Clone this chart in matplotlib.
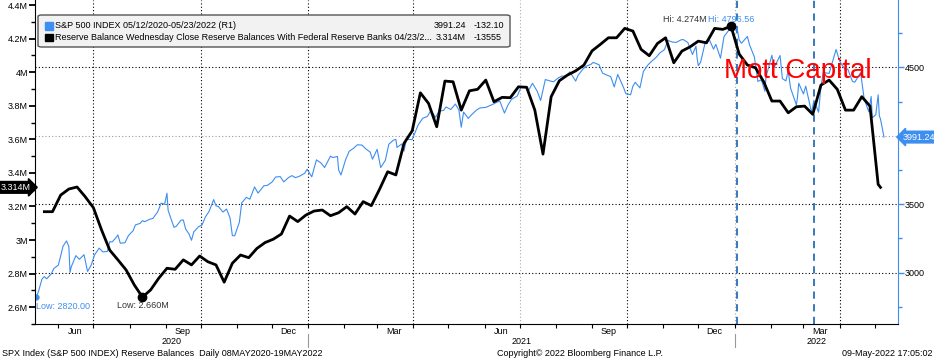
import matplotlib
matplotlib.use("Agg")
import matplotlib.pyplot as plt
import matplotlib.dates as mdates
import matplotlib.transforms as mtransforms
from matplotlib.patches import FancyBboxPatch, Rectangle
import pandas as pd

# --- data ---
# Reserve balances (weekly, Wednesday close), trillions shown as "M"
reserve_start = "2020-05-20"
reserve_values = [
    3.169, 3.169, 3.268, 3.304, 3.316, 3.258, 3.193, 3.060, 2.940, 2.882,
    2.822, 2.733, 2.660, 2.703, 2.773, 2.832, 2.826, 2.882, 2.852, 2.905,
    2.871, 2.852, 2.749, 2.862, 2.911, 2.895, 2.950, 2.985, 3.005, 3.036,
    3.143, 3.110, 3.149, 3.173, 3.179, 3.145, 3.163, 3.199, 3.155, 3.229,
    3.205, 3.302, 3.407, 3.388, 3.576, 3.651, 3.877, 3.814, 3.675, 3.947,
    3.943, 3.774, 3.889, 3.898, 3.953, 3.824, 3.850, 3.848, 3.913, 3.910,
    3.774, 3.512, 3.854, 3.949, 3.983, 4.008, 4.042, 4.127, 4.165, 4.205,
    4.205, 4.261, 4.245, 4.136, 4.098, 4.171, 4.205, 4.056, 4.126, 4.151,
    4.185, 4.175, 4.261, 4.255, 4.274, 4.108, 4.043, 4.026, 3.943, 3.828,
    3.828, 3.758, 3.794, 3.798, 3.749, 3.923, 3.953, 3.898, 3.774, 3.774,
    3.854, 3.798, 3.332,
]
reserve_last_date = "2022-05-06"
reserve_last_value = 3.314

# S&P 500 closes (right axis)
spx_dates = [
    "2020-05-13", "2020-05-15", "2020-05-18", "2020-05-20", "2020-05-22", "2020-05-26",
    "2020-05-28", "2020-06-01", "2020-06-03", "2020-06-05", "2020-06-08", "2020-06-10",
    "2020-06-11", "2020-06-12", "2020-06-16", "2020-06-19", "2020-06-23", "2020-06-26",
    "2020-06-29", "2020-07-02", "2020-07-06", "2020-07-09", "2020-07-13", "2020-07-15",
    "2020-07-17", "2020-07-20", "2020-07-22", "2020-07-24", "2020-07-28", "2020-07-31",
    "2020-08-04", "2020-08-06", "2020-08-10", "2020-08-12", "2020-08-14", "2020-08-18",
    "2020-08-21", "2020-08-25", "2020-08-28", "2020-08-31", "2020-09-02", "2020-09-03",
    "2020-09-08", "2020-09-10", "2020-09-14", "2020-09-16", "2020-09-18", "2020-09-21",
    "2020-09-23", "2020-09-25", "2020-09-29", "2020-10-02", "2020-10-05", "2020-10-08",
    "2020-10-12", "2020-10-14", "2020-10-16", "2020-10-20", "2020-10-23", "2020-10-26",
    "2020-10-28", "2020-10-30", "2020-11-03", "2020-11-05", "2020-11-09", "2020-11-12",
    "2020-11-16", "2020-11-19", "2020-11-24", "2020-11-27", "2020-12-01", "2020-12-04",
    "2020-12-08", "2020-12-11", "2020-12-15", "2020-12-18", "2020-12-21", "2020-12-24",
    "2020-12-29", "2020-12-31", "2021-01-04", "2021-01-08", "2021-01-12", "2021-01-15",
    "2021-01-20", "2021-01-22", "2021-01-26", "2021-01-27", "2021-01-29", "2021-02-02",
    "2021-02-05", "2021-02-09", "2021-02-12", "2021-02-16", "2021-02-19", "2021-02-23",
    "2021-02-25", "2021-03-01", "2021-03-04", "2021-03-08", "2021-03-11", "2021-03-15",
    "2021-03-17", "2021-03-18", "2021-03-22", "2021-03-24", "2021-03-26", "2021-03-31",
    "2021-04-05", "2021-04-09", "2021-04-13", "2021-04-16", "2021-04-20", "2021-04-23",
    "2021-04-27", "2021-04-29", "2021-05-03", "2021-05-07", "2021-05-10", "2021-05-12",
    "2021-05-14", "2021-05-18", "2021-05-21", "2021-05-25", "2021-05-28", "2021-06-02",
    "2021-06-07", "2021-06-10", "2021-06-14", "2021-06-18", "2021-06-21", "2021-06-24",
    "2021-06-29", "2021-07-02", "2021-07-07", "2021-07-08", "2021-07-12", "2021-07-16",
    "2021-07-19", "2021-07-23", "2021-07-27", "2021-07-30", "2021-08-03", "2021-08-06",
    "2021-08-10", "2021-08-13", "2021-08-18", "2021-08-20", "2021-08-24", "2021-08-27",
    "2021-08-31", "2021-09-02", "2021-09-07", "2021-09-10", "2021-09-14", "2021-09-17",
    "2021-09-20", "2021-09-23", "2021-09-28", "2021-09-30", "2021-10-04", "2021-10-06",
    "2021-10-08", "2021-10-12", "2021-10-15", "2021-10-19", "2021-10-22", "2021-10-26",
    "2021-10-29", "2021-11-02", "2021-11-05", "2021-11-09", "2021-11-12", "2021-11-16",
    "2021-11-18", "2021-11-22", "2021-11-26", "2021-11-29", "2021-11-30", "2021-12-01",
    "2021-12-03", "2021-12-07", "2021-12-10", "2021-12-14", "2021-12-16", "2021-12-20",
    "2021-12-23", "2021-12-29", "2021-12-31", "2022-01-03", "2022-01-05", "2022-01-07",
    "2022-01-12", "2022-01-14", "2022-01-18", "2022-01-21", "2022-01-24", "2022-01-27",
    "2022-01-28", "2022-02-02", "2022-02-04", "2022-02-09", "2022-02-11", "2022-02-14",
    "2022-02-16", "2022-02-18", "2022-02-23", "2022-02-24", "2022-02-25", "2022-03-01",
    "2022-03-03", "2022-03-08", "2022-03-10", "2022-03-14", "2022-03-16", "2022-03-18",
    "2022-03-23", "2022-03-29", "2022-04-01", "2022-04-06", "2022-04-08", "2022-04-12",
    "2022-04-14", "2022-04-19", "2022-04-22", "2022-04-26", "2022-04-28", "2022-04-29",
    "2022-05-02", "2022-05-04", "2022-05-05", "2022-05-06", "2022-05-09",
]
spx_values = [
    2820.00, 2863.70, 2953.91, 2971.61, 2955.45, 2991.77,
    3029.73, 3055.73, 3122.87, 3193.93, 3232.39, 3190.14,
    3002.10, 3041.31, 3124.74, 3097.74, 3131.29, 3009.05,
    3053.24, 3130.01, 3179.72, 3152.05, 3155.22, 3226.56,
    3224.73, 3251.84, 3276.02, 3215.63, 3218.44, 3271.12,
    3306.51, 3349.16, 3360.47, 3380.35, 3372.85, 3389.78,
    3397.16, 3443.62, 3508.01, 3500.31, 3580.84, 3455.06,
    3331.84, 3339.19, 3383.54, 3385.49, 3319.47, 3281.06,
    3236.92, 3298.46, 3335.47, 3348.42, 3408.60, 3446.83,
    3534.22, 3488.67, 3483.81, 3443.12, 3465.39, 3400.97,
    3271.03, 3269.96, 3369.16, 3510.45, 3550.50, 3537.01,
    3626.91, 3581.87, 3635.41, 3638.35, 3662.45, 3699.12,
    3702.25, 3663.46, 3694.62, 3709.41, 3694.92, 3703.06,
    3727.04, 3756.07, 3700.65, 3824.68, 3801.19, 3768.25,
    3851.85, 3841.47, 3849.62, 3750.77, 3714.24, 3826.31,
    3886.83, 3911.23, 3934.83, 3932.59, 3906.71, 3881.37,
    3829.34, 3901.82, 3768.47, 3821.35, 3939.34, 3968.94,
    3974.12, 3915.46, 3940.59, 3889.14, 3974.54, 3972.89,
    4077.91, 4128.80, 4141.59, 4185.47, 4134.94, 4180.17,
    4186.72, 4211.47, 4192.66, 4232.60, 4188.43, 4063.04,
    4173.85, 4127.83, 4155.86, 4188.13, 4204.11, 4208.12,
    4226.52, 4239.18, 4255.15, 4166.45, 4224.79, 4266.49,
    4291.80, 4352.34, 4358.13, 4320.82, 4384.63, 4327.16,
    4258.49, 4411.79, 4401.46, 4395.26, 4423.15, 4436.52,
    4436.75, 4468.00, 4400.27, 4441.67, 4486.23, 4509.37,
    4522.68, 4536.95, 4520.03, 4458.58, 4443.05, 4432.99,
    4357.73, 4448.98, 4352.63, 4307.54, 4300.46, 4363.55,
    4391.34, 4350.65, 4471.37, 4519.63, 4544.90, 4574.79,
    4605.38, 4630.65, 4697.53, 4685.25, 4682.85, 4700.90,
    4704.54, 4682.94, 4594.62, 4655.27, 4567.00, 4513.04,
    4538.43, 4686.75, 4712.02, 4634.09, 4668.67, 4568.02,
    4725.79, 4793.06, 4766.18, 4796.56, 4700.58, 4677.03,
    4726.35, 4662.85, 4577.11, 4397.94, 4410.13, 4326.51,
    4431.85, 4589.38, 4500.53, 4587.18, 4418.64, 4401.67,
    4475.01, 4348.87, 4225.50, 4288.70, 4384.65, 4306.26,
    4363.49, 4170.70, 4259.52, 4173.11, 4357.86, 4463.12,
    4456.24, 4631.60, 4545.86, 4481.15, 4488.28, 4397.45,
    4392.59, 4462.21, 4271.78, 4175.20, 4287.50, 4131.93,
    4155.38, 4300.17, 4146.87, 4123.34, 3991.24,
]

left_ticks = [2.6, 2.8, 3.0, 3.2, 3.4, 3.6, 3.8, 4.0, 4.2, 4.4]
right_ticks = [3000, 3500, 4000, 4500]
marker_dates = ["2022-01-03", "2022-03-10"]   # blue dashed verticals

BLUE = "#3d8ef0"
FONT = "Liberation Sans"
W, H = 934, 359


def fx(px):
    return px / W


def fy(py):
    return 1 - py / H


def main():
    plt.rcParams["font.family"] = [FONT, "DejaVu Sans"]
    plt.rcParams["font.size"] = 6.5

    res_dates = list(pd.date_range(reserve_start, periods=len(reserve_values), freq="7D"))
    res_dates.append(pd.Timestamp(reserve_last_date))
    res_vals = reserve_values + [reserve_last_value]
    res = pd.Series(res_vals, index=res_dates)
    spx = pd.Series(spx_values, index=pd.to_datetime(spx_dates))
    spx_last = spx_values[-1]

    fig = plt.figure(figsize=(W / 100, H / 100), dpi=100)
    ax = fig.add_axes([fx(35), 1 - 324 / H, fx(898) - fx(35), 324 / H])
    ax2 = ax.twinx()
    ax.set_zorder(ax2.get_zorder() + 1)
    ax.patch.set_visible(False)

    xmin, xmax = pd.Timestamp("2020-05-12"), pd.Timestamp("2022-05-21")
    ax.set_xlim(xmin, xmax)
    ax.set_ylim(2.50, 4.43)
    ax2.set_ylim(2625, 4993)

    # horizontal grid from right axis
    for v in right_ticks:
        ax2.axhline(v, color="#999999" if v == 4000 else "black", lw=0.8,
                    ls=(0, (1, 2)), zorder=0)
    # quarterly vertical grid
    for d in pd.date_range("2020-07-01", xmax, freq="QS"):
        col = "#aaaaaa" if d in (pd.Timestamp("2021-07-01"), pd.Timestamp("2022-01-01")) else "black"
        ax2.axvline(d, color=col, lw=0.8, ls=(0, (1, 2)), zorder=0)
    for d in marker_dates:
        ax2.axvline(pd.Timestamp(d), color="#2a6db8", lw=1.3, ls=(0, (4, 3)), zorder=1)

    ax2.plot(spx.index, spx.values, color=BLUE, lw=0.8, zorder=2)
    ax.plot(res.index, res.values, color="black", lw=2.0, zorder=3)

    # hi / low markers
    hi_d, hi_v = res.idxmax(), res.max()
    lo_d, lo_v = res.idxmin(), res.min()
    ax.plot([hi_d], [hi_v], "o", color="black", ms=6, zorder=4)
    ax.plot([lo_d], [lo_v], "o", color="black", ms=6, zorder=4)
    ax.annotate(f"Hi: {hi_v:.3f}M", (hi_d, hi_v), xytext=(-24, 7), textcoords="offset pixels",
                ha="right", va="center", color="#333333", fontsize=6.5)
    ax.annotate(f"Hi: {spx.max():.2f}", (hi_d, hi_v), xytext=(-23, 7), textcoords="offset pixels",
                ha="left", va="center", color=BLUE, fontsize=6.5)
    ax.annotate(f"Low: {lo_v:.3f}M", (lo_d, lo_v), xytext=(0, -8), textcoords="offset pixels",
                ha="center", va="center", color="#333333", fontsize=6.5)
    s_lo_d, s_lo_v = spx.idxmin(), spx.min()
    ax2.plot([s_lo_d], [s_lo_v], "o", color=BLUE, ms=3.5, zorder=4)
    ax2.annotate(f"Low: {s_lo_v:.2f}", (s_lo_d, s_lo_v), xytext=(0, -9), textcoords="offset pixels",
                 ha="left", va="center", color=BLUE, fontsize=6.5)

    # axes styling
    for a in (ax, ax2):
        a.spines["top"].set_visible(False)
    ax.spines["left"].set_color("black")
    ax.spines["bottom"].set_color("black")
    ax.spines["right"].set_visible(False)
    ax2.spines["left"].set_visible(False)
    ax2.spines["bottom"].set_visible(False)
    ax2.spines["right"].set_color(BLUE)

    ax.set_yticks(left_ticks)
    ax.set_yticklabels([f"{t:g}M" for t in left_ticks])
    ax.yaxis.set_minor_locator(matplotlib.ticker.MultipleLocator(0.1))
    ax.tick_params(axis="y", which="major", length=4, width=1.3, pad=1, labelsize=6.5)
    ax.tick_params(axis="y", which="minor", length=3, width=1.0)

    # the right-axis label next to the last value is covered by the value tag
    ax2.set_yticks(right_ticks)
    ax2.set_yticklabels(["" if abs(t - spx_last) < 60 else str(t) for t in right_ticks])
    ax2.yaxis.set_minor_locator(matplotlib.ticker.MultipleLocator(250))
    ax2.tick_params(axis="y", which="major", length=4, width=1.0, color=BLUE, pad=1, labelsize=6.5)
    ax2.tick_params(axis="y", which="minor", length=3, width=1.0, color=BLUE)

    ax.xaxis.set_major_locator(mdates.MonthLocator())
    ax.xaxis.set_major_formatter(matplotlib.ticker.NullFormatter())
    ax.xaxis.set_minor_locator(mdates.MonthLocator(bymonth=[3, 6, 9, 12], bymonthday=15))
    ax.xaxis.set_minor_formatter(mdates.DateFormatter("%b"))
    ax.tick_params(axis="x", which="major", length=3, width=0.8)
    ax.tick_params(axis="x", which="minor", length=0, pad=2, labelsize=6.5)

    # year labels and separators under the months
    trans = mtransforms.blended_transform_factory(ax.transData, fig.transFigure)
    for yr in range(xmin.year, xmax.year + 1):
        a = max(xmin, pd.Timestamp(f"{yr}-01-01"))
        b = min(xmax, pd.Timestamp(f"{yr + 1}-01-01"))
        mid = a + (b - a) / 2
        fig.text(mdates.date2num(mid), fy(341), str(yr), transform=trans,
                 ha="center", va="center", fontsize=6.5)
        if yr > xmin.year:
            fig.add_artist(plt.Line2D([mdates.date2num(a)] * 2, [fy(334), fy(347)],
                                      transform=trans, color="#999999", lw=0.8))

    # last value labels
    ax.annotate(f"{reserve_last_value:.3f}M", xy=(0, reserve_last_value),
                xycoords=ax.get_yaxis_transform(), xytext=(-4, 0), textcoords="offset pixels",
                ha="right", va="center", color="white", fontsize=6.5,
                bbox=dict(boxstyle="rarrow,pad=0.15", fc="black", ec="black"))
    ax2.annotate(f"{spx_last:.2f}", xy=(1, spx_last),
                 xycoords=ax2.get_yaxis_transform(), xytext=(5, 0), textcoords="offset pixels",
                 ha="left", va="center", color="white", fontsize=6.5,
                 bbox=dict(boxstyle="larrow,pad=0.15", fc=BLUE, ec=BLUE))

    # watermark
    fig.text(fx(798), fy(71), "Mott Capital", color="red", fontsize=20,
             family=FONT, ha="center", va="center")

    # legend box
    fig.add_artist(FancyBboxPatch((fx(38), fy(47)), fx(510) - fx(38), fy(15) - fy(47),
                                  boxstyle="round,pad=0,rounding_size=0.004",
                                  transform=fig.transFigure, fc="#f2f2f2", ec="#555555", lw=1))
    rows = [
        (BLUE, "S&P 500 INDEX 05/12/2020-05/23/2022 (R1)", f"{spx_last:.2f}", "-132.10", 26),
        ("black", "Reserve Balance Wednesday Close Reserve Balances With Federal Reserve Banks 04/23/2...",
         f"{reserve_last_value:.3f}M", "-13555", 37.5),
    ]
    for col, label, val, chg, ypx in rows:
        fig.add_artist(Rectangle((fx(45), fy(ypx + 3.5)), fx(8), 7 / H,
                                 transform=fig.transFigure, fc=col, ec=col))
        fig.text(fx(55), fy(ypx), label, ha="left", va="center", fontsize=6.5)
        fig.text(fx(466), fy(ypx), val, ha="right", va="center", fontsize=6.5)
        fig.text(fx(474), fy(ypx), chg, ha="left", va="center", fontsize=6.5)

    # footer
    fig.text(fx(2), fy(353), "SPX Index (S&P 500 INDEX) Reserve Balances  Daily 08MAY2020-19MAY2022",
             ha="left", va="center", fontsize=6.5)
    fig.text(fx(497), fy(353), "Copyright\u00a9 2022 Bloomberg Finance L.P.",
             ha="left", va="center", fontsize=6.5)
    fig.text(fx(932), fy(353), "09-May-2022 17:05:02", ha="right", va="center", fontsize=6.5)

    fig.savefig("out.png", dpi=100)


if __name__ == "__main__":
    main()
